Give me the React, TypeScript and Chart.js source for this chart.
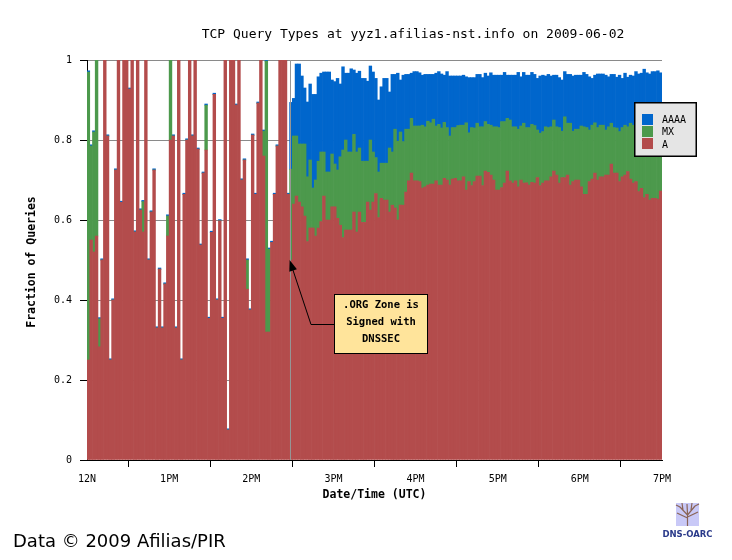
import { useEffect, useRef } from "react";
import { Chart, registerables } from "chart.js";
Chart.register(...registerables);

// ---- axis / category data ----
const hourLabels = ["12N", "1PM", "2PM", "3PM", "4PM", "5PM", "6PM", "7PM"];
const binMinutes = 2;
const eventMinute = 148; // 14:28 UTC, .ORG zone signed

// ---- series: fraction of TCP queries per 2-minute bin ----
// 12:00 - 14:28 (sparse traffic)
const earlyA = [
  0.25, 0.55, 0.52, 0.56, 0.283, 0.5, 1, 0.81, 0.25, 0.4,
  0.725, 1, 0.644, 1, 1, 0.927, 1, 0.57, 1, 0.625,
  0.57, 1, 0.5, 0.62, 0.725, 0.33, 0.477, 0.33, 0.44, 0.56,
  0.8, 0.81, 0.33, 1, 0.25, 0.664, 0.8, 1, 0.81, 1,
  0.777, 0.537, 0.717, 0.775, 0.354, 0.569, 0.914, 0.4, 0.598, 0.354,
  1, 0.075, 1, 1, 0.887, 1, 0.7, 0.75, 0.427, 0.375,
  0.812, 0.664, 0.892, 1, 0.76, 0.32, 0.32, 0.544, 0.664, 0.785,
  1, 1, 1, 0.664,
];
const earlyMX = [
  0.72, 0.235, 0.3, 0.44, 0.07, 0, 0, 0, 0, 0,
  0, 0, 0, 0, 0, 0, 0, 0, 0, 0,
  0.076, 0, 0, 0, 0, 0, 0, 0, 0, 0.05,
  0.2, 0, 0, 0, 0, 0, 0, 0, 0, 0,
  0, 0, 0, 0.112, 0, 0, 0, 0, 0, 0,
  0, 0, 0, 0, 0, 0, 0, 0, 0.073, 0,
  0, 0, 0, 0, 0.062, 0.677, 0.207, 0, 0, 0,
  0, 0, 0, 0,
];
const earlyAAAA = [
  0.003, 0.003, 0.003, 0.003, 0.003, 0.003, 0.003, 0.003, 0.003, 0.003,
  0.003, 0.003, 0.003, 0.003, 0.003, 0.003, 0.003, 0.003, 0.003, 0.003,
  0.003, 0.003, 0.003, 0.003, 0.003, 0.003, 0.003, 0.003, 0.003, 0.003,
  0.003, 0.003, 0.003, 0.003, 0.003, 0.003, 0.003, 0.003, 0.003, 0.003,
  0.003, 0.003, 0.003, 0.003, 0.003, 0.003, 0.003, 0.003, 0.003, 0.003,
  0.003, 0.003, 0.003, 0.003, 0.003, 0.003, 0.003, 0.003, 0.003, 0.003,
  0.003, 0.003, 0.003, 0.003, 0.003, 0.003, 0.003, 0.003, 0.003, 0.003,
  0.003, 0.003, 0.003, 0.003,
];
// 14:28 - 19:00 (after signing)
const lateA = [
  0.5, 0.64, 0.66, 0.645, 0.633, 0.61, 0.546, 0.58, 0.58, 0.56,
  0.58, 0.596, 0.66, 0.6, 0.6, 0.633, 0.633, 0.604, 0.587, 0.556,
  0.575, 0.575, 0.575, 0.62, 0.57, 0.62, 0.594, 0.594, 0.645, 0.625,
  0.645, 0.666, 0.606, 0.654, 0.65, 0.65, 0.62, 0.637, 0.63, 0.6,
  0.637, 0.637, 0.67, 0.698, 0.717, 0.698, 0.698, 0.696, 0.68, 0.683,
  0.687, 0.69, 0.69, 0.698, 0.687, 0.687, 0.704, 0.7, 0.687, 0.702,
  0.704, 0.698, 0.698, 0.708, 0.675, 0.696, 0.686, 0.696, 0.71, 0.71,
  0.686, 0.722, 0.719, 0.712, 0.7, 0.675, 0.675, 0.681, 0.692, 0.722,
  0.698, 0.692, 0.698, 0.683, 0.7, 0.692, 0.693, 0.687, 0.694, 0.692,
  0.706, 0.686, 0.692, 0.698, 0.698, 0.708, 0.722, 0.712, 0.692, 0.706,
  0.706, 0.712, 0.687, 0.696, 0.7, 0.7, 0.683, 0.664, 0.664, 0.696,
  0.702, 0.717, 0.7, 0.708, 0.708, 0.712, 0.712, 0.74, 0.717, 0.717,
  0.696, 0.708, 0.712, 0.721, 0.702, 0.692, 0.696, 0.671, 0.679, 0.656,
  0.664, 0.65, 0.654, 0.654, 0.652, 0.672,
];
const lateMX = [
  0.227, 0.17, 0.15, 0.145, 0.157, 0.18, 0.162, 0.17, 0.1, 0.14,
  0.167, 0.174, 0.11, 0.12, 0.12, 0.132, 0.107, 0.121, 0.171, 0.219,
  0.225, 0.195, 0.195, 0.194, 0.2, 0.16, 0.153, 0.153, 0.102, 0.175,
  0.125, 0.09, 0.114, 0.088, 0.092, 0.092, 0.16, 0.133, 0.197, 0.197,
  0.183, 0.159, 0.157, 0.129, 0.137, 0.137, 0.137, 0.139, 0.157, 0.15,
  0.16, 0.153, 0.162, 0.137, 0.152, 0.143, 0.14, 0.131, 0.123, 0.129,
  0.127, 0.138, 0.139, 0.129, 0.168, 0.122, 0.145, 0.134, 0.132, 0.123,
  0.147, 0.124, 0.12, 0.125, 0.133, 0.158, 0.156, 0.165, 0.154, 0.132,
  0.152, 0.141, 0.135, 0.144, 0.135, 0.15, 0.138, 0.144, 0.145, 0.144,
  0.119, 0.131, 0.129, 0.135, 0.133, 0.125, 0.128, 0.121, 0.139, 0.116,
  0.152, 0.13, 0.155, 0.126, 0.127, 0.127, 0.152, 0.169, 0.167, 0.129,
  0.135, 0.126, 0.131, 0.129, 0.129, 0.113, 0.121, 0.102, 0.114, 0.113,
  0.125, 0.123, 0.125, 0.112, 0.14, 0.145, 0.143, 0.165, 0.156, 0.177,
  0.171, 0.18, 0.183, 0.181, 0.185, 0.163,
];
const lateAAAA = [
  0.167, 0.094, 0.18, 0.2, 0.17, 0.14, 0.187, 0.19, 0.234, 0.214,
  0.211, 0.197, 0.2, 0.25, 0.25, 0.185, 0.206, 0.229, 0.182, 0.208,
  0.167, 0.197, 0.208, 0.161, 0.197, 0.192, 0.207, 0.207, 0.2, 0.185,
  0.2, 0.198, 0.18, 0.191, 0.212, 0.212, 0.14, 0.194, 0.137, 0.17,
  0.13, 0.166, 0.137, 0.137, 0.113, 0.136, 0.136, 0.133, 0.125, 0.131,
  0.117, 0.121, 0.112, 0.132, 0.132, 0.135, 0.118, 0.14, 0.15, 0.129,
  0.129, 0.124, 0.123, 0.125, 0.115, 0.138, 0.125, 0.126, 0.122, 0.131,
  0.123, 0.121, 0.121, 0.131, 0.129, 0.129, 0.131, 0.116, 0.123, 0.108,
  0.112, 0.129, 0.129, 0.142, 0.123, 0.127, 0.131, 0.131, 0.13, 0.128,
  0.129, 0.143, 0.141, 0.127, 0.133, 0.127, 0.112, 0.129, 0.125, 0.128,
  0.113, 0.122, 0.122, 0.138, 0.135, 0.135, 0.127, 0.136, 0.133, 0.133,
  0.117, 0.119, 0.134, 0.128, 0.128, 0.137, 0.125, 0.122, 0.133, 0.127,
  0.141, 0.123, 0.13, 0.124, 0.12, 0.123, 0.132, 0.129, 0.132, 0.144,
  0.133, 0.135, 0.134, 0.136, 0.136, 0.133,
];

const seriesA = [...earlyA, ...lateA];
const seriesMX = [...earlyMX, ...lateMX];
const seriesAAAA = [...earlyAAAA, ...lateAAAA];

const COLORS = { A: "#b34c4c", MX: "#4c994c", AAAA: "#0066cc" };
const MONO = "'DejaVu Sans Mono', 'Liberation Mono', monospace";

const toPoints = (arr: number[]) =>
  arr.map((v, i) => ({ x: i * binMinutes + binMinutes / 2, y: v }));

const overlay = {
  id: "overlay",
  afterDraw(chart: any) {
    const { ctx, chartArea, scales } = chart;
    const xs = scales.x;
    const ys = scales.y;
    ctx.save();

    // event marker line
    const ex = Math.round(xs.getPixelForValue(eventMinute)) + 0.5;
    ctx.strokeStyle = "#959595";
    ctx.lineWidth = 1;
    ctx.beginPath();
    ctx.moveTo(ex, chartArea.top);
    ctx.lineTo(ex, chartArea.bottom);
    ctx.stroke();

    // annotation arrow + box
    const tipX = xs.getPixelForValue(eventMinute);
    const tipY = ys.getPixelForValue(0.5);
    const bx = 334, by = 294, bw = 94, bh = 60;
    const elbowX = 311, elbowY = by + bh / 2;
    ctx.strokeStyle = "#000";
    ctx.lineWidth = 1;
    ctx.beginPath();
    ctx.moveTo(bx, elbowY + 0.5);
    ctx.lineTo(elbowX, elbowY + 0.5);
    ctx.lineTo(tipX + 2, tipY + 6);
    ctx.stroke();
    const ang = Math.atan2(tipY - elbowY, tipX - elbowX);
    const L = 11, W = 4;
    ctx.fillStyle = "#000";
    ctx.beginPath();
    ctx.moveTo(tipX, tipY);
    ctx.lineTo(tipX - L * Math.cos(ang) + W * Math.sin(ang), tipY - L * Math.sin(ang) - W * Math.cos(ang));
    ctx.lineTo(tipX - L * Math.cos(ang) - W * Math.sin(ang), tipY - L * Math.sin(ang) + W * Math.cos(ang));
    ctx.closePath();
    ctx.fill();

    ctx.fillStyle = "#ffe49b";
    ctx.fillRect(bx, by, bw, bh);
    ctx.strokeStyle = "#000";
    ctx.lineWidth = 1;
    ctx.strokeRect(bx + 0.5, by + 0.5, bw - 1, bh - 1);
    ctx.fillStyle = "#000";
    ctx.font = `bold 10.5px ${MONO}`;
    ctx.textAlign = "center";
    ctx.textBaseline = "middle";
    [".ORG Zone is", "Signed with", "DNSSEC"].forEach((t, i) => {
      ctx.fillText(t, bx + bw / 2, by + 11 + i * 17);
    });

    // legend
    const lx = chartArea.right - 28, ly = 102, lw = 63, lh = 55;
    ctx.fillStyle = "#e5e5e5";
    ctx.fillRect(lx, ly, lw, lh);
    ctx.strokeStyle = "#000";
    ctx.lineWidth = 1.5;
    ctx.strokeRect(lx + 0.75, ly + 0.75, lw - 1.5, lh - 1.5);
    const entries: [string, string][] = [
      ["AAAA", COLORS.AAAA],
      ["MX", COLORS.MX],
      ["A", COLORS.A],
    ];
    ctx.font = `10px ${MONO}`;
    ctx.textAlign = "left";
    entries.forEach(([t, c], i) => {
      ctx.fillStyle = c;
      ctx.fillRect(lx + 8, ly + 12 + i * 12, 11, 11);
      ctx.fillStyle = "#000";
      ctx.fillText(t, lx + 28, ly + 18.5 + i * 12.3);
    });

    // title
    ctx.fillStyle = "#000";
    ctx.font = `13px ${MONO}`;
    ctx.textAlign = "center";
    ctx.fillText("TCP Query Types at yyz1.afilias-nst.info on 2009-06-02", 413, 35);

    // axis titles
    ctx.font = `bold 11.5px ${MONO}`;
    ctx.fillText("Date/Time (UTC)", (chartArea.left + chartArea.right) / 2, 495);
    ctx.save();
    ctx.translate(32, (chartArea.top + chartArea.bottom) / 2 + 2);
    ctx.rotate(-Math.PI / 2);
    ctx.fillText("Fraction of Queries", 0, 0);
    ctx.restore();

    // credit
    ctx.font = `18px 'DejaVu Sans', sans-serif`;
    ctx.textAlign = "left";
    ctx.textBaseline = "alphabetic";
    ctx.fillText("Data \u00A9 2009 Afilias/PIR", 13, 547);

    // DNS-OARC logo
    ctx.fillStyle = "#c9c9f7";
    ctx.fillRect(676, 503, 23, 23);
    ctx.strokeStyle = "#8a6457";
    ctx.lineWidth = 1.2;
    const br: number[][] = [
      [687.5, 526, 687.5, 514],
      [687.5, 515, 680, 507],
      [687.5, 515, 695, 506],
      [687.5, 518, 677, 513],
      [687.5, 517, 698, 512],
      [683, 510, 682, 503],
      [691, 510, 692, 503],
      [680, 507, 676, 505],
      [695, 506, 699, 504],
      [687.5, 514, 687, 504],
    ];
    ctx.beginPath();
    br.forEach(([a, b, c, d]) => {
      ctx.moveTo(a, b);
      ctx.lineTo(c, d);
    });
    ctx.stroke();
    ctx.fillStyle = "#2a3a8a";
    ctx.font = `bold 8.5px 'DejaVu Sans', sans-serif`;
    ctx.textAlign = "center";
    ctx.textBaseline = "middle";
    ctx.fillText("DNS-OARC", 687.5, 535);

    ctx.restore();
  },
};

export default function App() {
  const ref = useRef<HTMLCanvasElement>(null);
  useEffect(() => {
    document.body.style.margin = "0";
    const chart = new Chart(ref.current as HTMLCanvasElement, {
      type: "bar",
      data: {
        datasets: [
          { label: "A", data: toPoints(seriesA), backgroundColor: COLORS.A },
          { label: "MX", data: toPoints(seriesMX), backgroundColor: COLORS.MX },
          { label: "AAAA", data: toPoints(seriesAAAA), backgroundColor: COLORS.AAAA },
        ],
      } as any,
      options: {
        animation: false,
        responsive: true,
        maintainAspectRatio: false,
        events: [],
        layout: { padding: { top: 60, right: 70, left: 0, bottom: 0 } },
        datasets: {
          bar: { barPercentage: 1, categoryPercentage: 1, borderWidth: 0 },
        } as any,
        plugins: { legend: { display: false }, title: { display: false }, tooltip: { enabled: false } },
        scales: {
          x: {
            type: "linear",
            stacked: true,
            offset: false,
            min: 0,
            max: 420,
            afterFit: (s: any) => {
              s.height = 100;
            },
            grid: { drawOnChartArea: false, drawTicks: true, tickLength: 7, tickColor: "#000" },
            border: { display: true, color: "#000" },
            ticks: {
              stepSize: 60,
              autoSkip: false,
              maxRotation: 0,
              padding: 6,
              color: "#000",
              font: { family: MONO, size: 10 },
              callback: (v: any) => hourLabels[Math.round(Number(v) / 60)] ?? "",
            },
          },
          y: {
            stacked: true,
            min: 0,
            max: 1,
            afterFit: (s: any) => {
              s.width = 87;
            },
            grid: { color: "#8a8a8a", lineWidth: 1, tickLength: 7, tickColor: "#000" },
            border: { display: true, color: "#000" },
            ticks: {
              stepSize: 0.2,
              padding: 8,
              color: "#000",
              font: { family: MONO, size: 10 },
              callback: (v: any) => String(Number(Number(v).toFixed(1))),
            },
          },
        },
      } as any,
      plugins: [overlay],
    });
    return () => chart.destroy();
  }, []);
  return (
    <div style={{ width: 732, height: 560, position: "relative", background: "#fff" }}>
      <canvas ref={ref} />
    </div>
  );
}
